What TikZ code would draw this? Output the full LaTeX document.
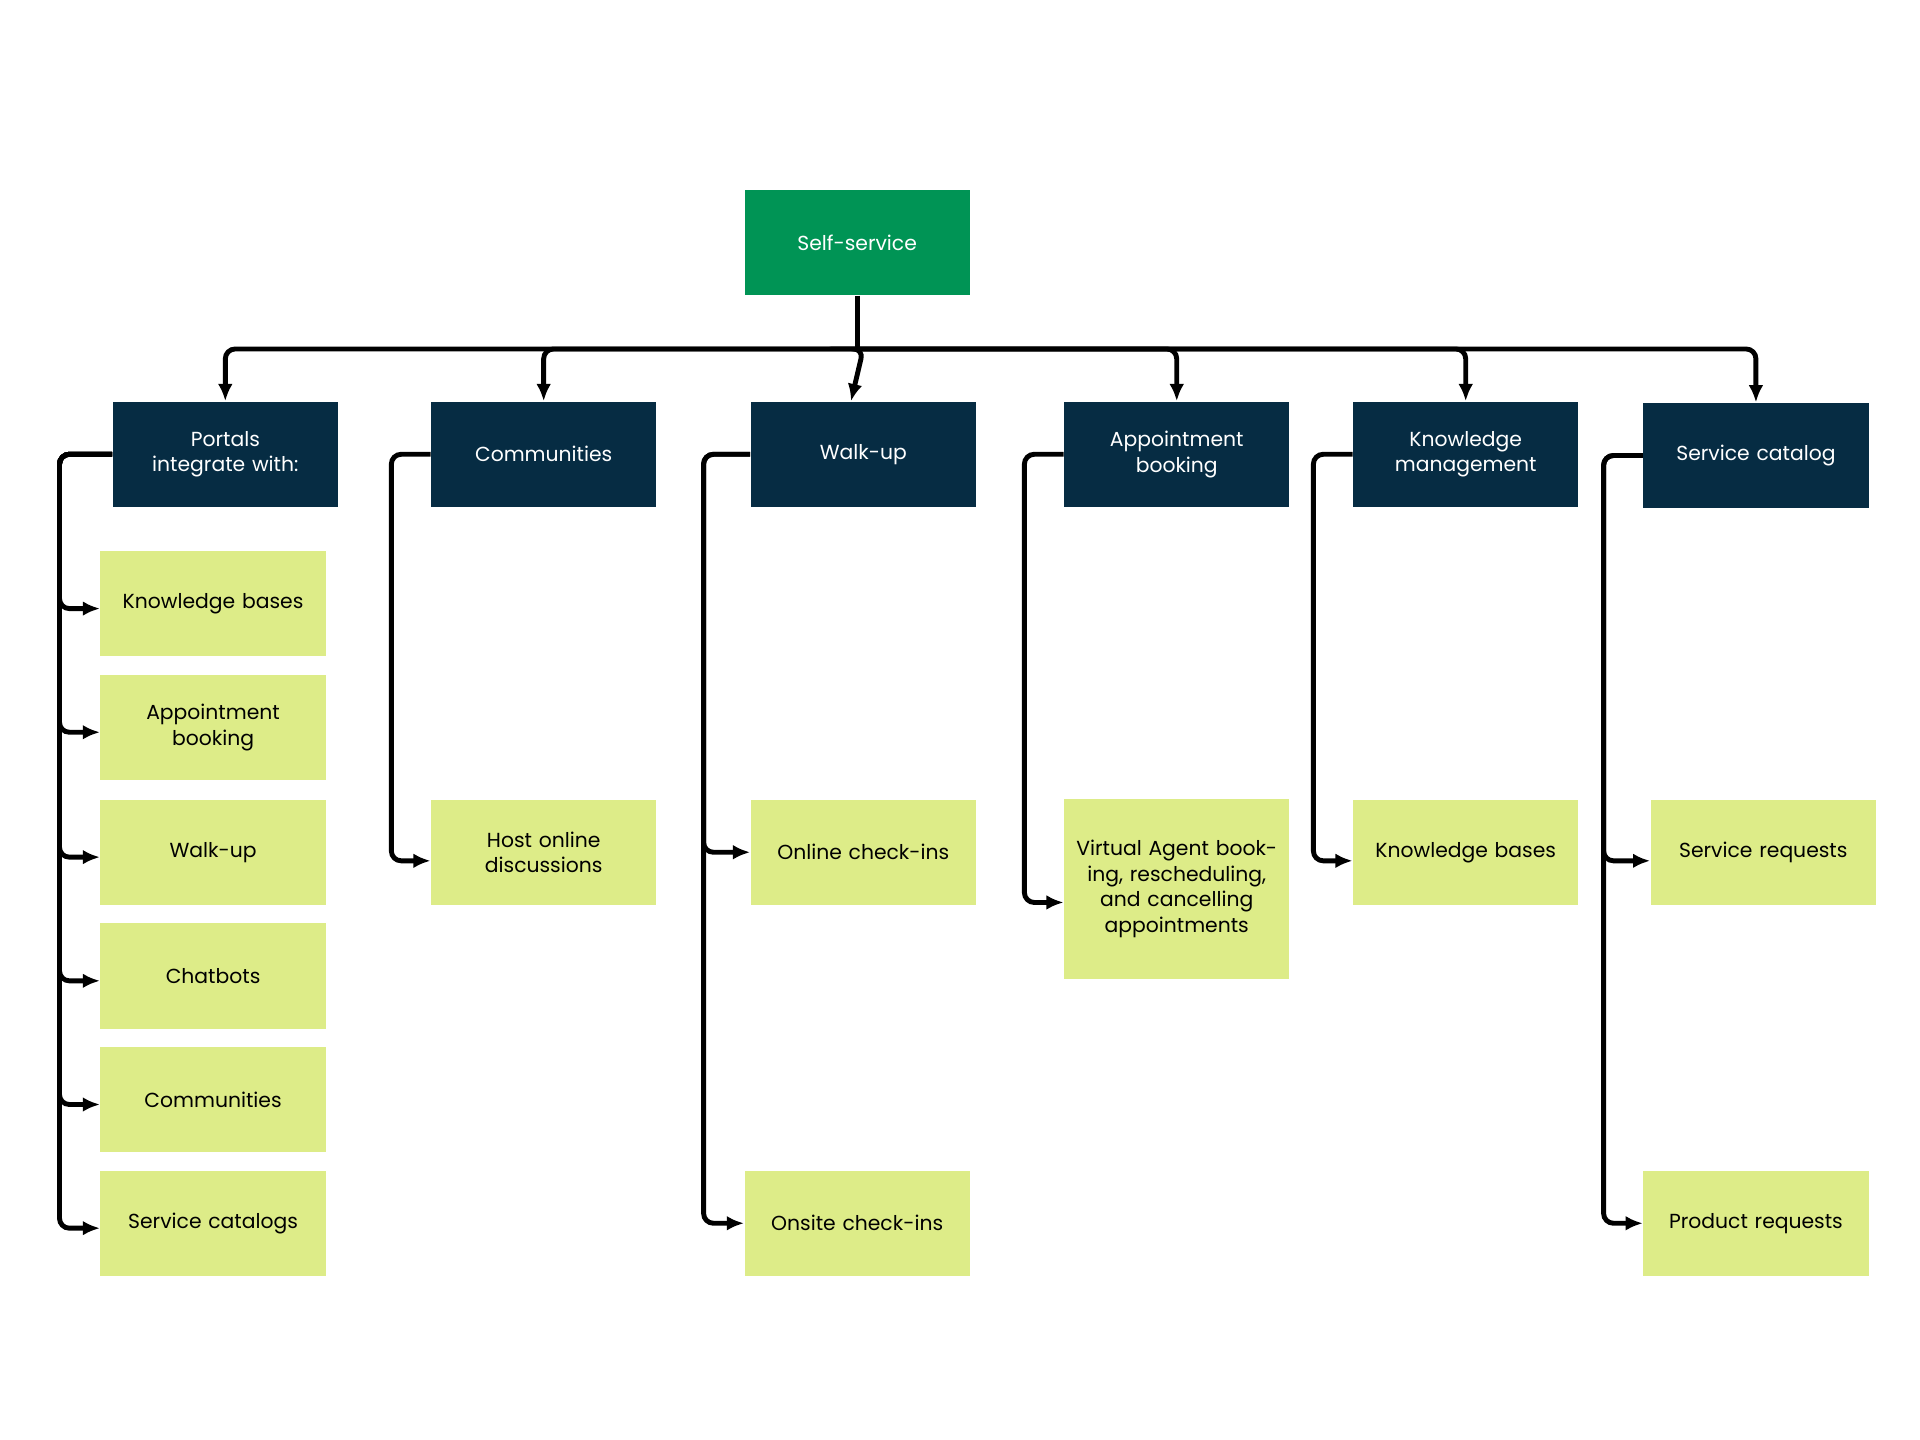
\documentclass[tikz,border=0pt]{standalone}
\usepackage{fontspec}
\setmainfont{Poppins}
\usetikzlibrary{arrows.meta}
\definecolor{hdr}{HTML}{062C43}
\definecolor{top}{HTML}{009455}
\definecolor{leaf}{HTML}{DDEC88}
\begin{document}
\begin{tikzpicture}[x=0.5pt,y=-0.5pt,
  box/.style={minimum width=92pt,minimum height=43pt,inner sep=2pt,align=center,font=\fontsize{8.3}{10.5}\selectfont,text width=86pt},
  dark/.style={box,fill=hdr,text=white},
  lf/.style={box,fill=leaf,text=black},
  conn/.style={line width=2pt,rounded corners=4pt,-{Latex[length=7pt,width=6pt]}}]
\useasboundingbox (0,0) rectangle (1568,1176);
\node[box,fill=top,text=white] (ss) at (700,198) {Self-service};
\node[dark] (h1) at (184,371) {Portals\\integrate with:};
\node[dark] (h2) at (444,371) {Communities};
\node[dark] (h3) at (705,371) {Walk-up};
\node[dark] (h4) at (961,371) {Appointment\\booking};
\node[dark] (h5) at (1197,371) {Knowledge\\management};
\node[dark] (h6) at (1434,372) {Service catalog};
\coordinate (bus) at (700,285);
\draw[line width=2pt] (ss.south) -- (bus);
\foreach \h in {h1,h2,h4,h5,h6} \draw[conn] (bus) -| (\h.north);
\draw[conn] (bus) -- (bus -| h3.north) -- ([xshift=-5pt]h3.north);
\node[lf] (a1) at (174,493) {Knowledge bases};
\node[lf] (a2) at (174,594) {Appointment\\booking};
\node[lf] (a3) at (174,696) {Walk-up};
\node[lf] (a4) at (174,797) {Chatbots};
\node[lf] (a5) at (174,898) {Communities};
\node[lf] (a6) at (174,999) {Service catalogs};
\foreach \c in {a1,a2,a3,a4,a5,a6} \draw[conn] (h1.west) -- ++(-43,0) |- ([yshift=-2pt]\c.west);
\node[lf] (b1) at (444,696) {Host online\\discussions};
\draw[conn] (h2.west) -- ++(-32,0) |- ([yshift=-3.5pt]b1.west);
\node[lf] (c1) at (705,696) {Online check-ins};
\node[lf] (c2) at (700,999) {Onsite check-ins};
\draw[conn] (h3.west) -- ++(-38,0) |- (c1.west);
\draw[conn] (h3.west) -- ++(-38,0) |- (c2.west);
\node[lf,minimum height=73.5pt] (d1) at (961,726) {Virtual Agent booking, rescheduling, and cancelling appointments};
\draw[conn] (h4.west) -- ++(-32,0) |- ([yshift=-5.5pt]d1.west);
\node[lf] (e1) at (1197,696) {Knowledge bases};
\draw[conn] (h5.west) -- ++(-32,0) |- ([yshift=-3.5pt]e1.west);
\node[lf] (f1) at (1440,696) {Service requests};
\node[lf] (f2) at (1434,999) {Product requests};
\draw[conn] (h6.west) -- ++(-32,0) -- ++(0,331) -- ([yshift=-3.5pt]f1.west);
\draw[conn] (h6.west) -- ++(-32,0) |- (f2.west);
\end{tikzpicture}
\end{document}
